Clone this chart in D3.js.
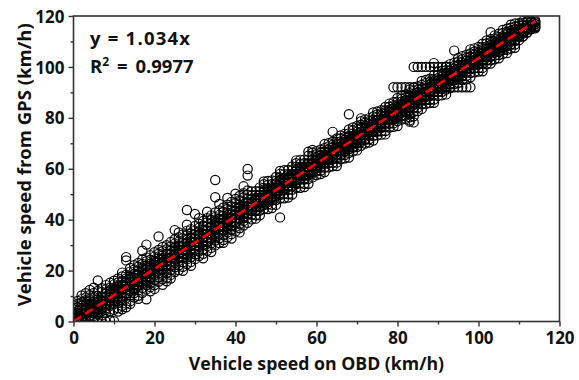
<!DOCTYPE html>
<html><head><meta charset="utf-8">
<script src="https://cdn.jsdelivr.net/npm/d3@7"></script>
<style>
html,body{margin:0;padding:0;background:#fff;}
svg{display:block;font-family:"Open Sans",sans-serif;font-weight:bold;}
</style></head>
<body>
<script>
// ---------- data ----------
const xTicks = [0, 20, 40, 60, 80, 100, 120];
const yTicks = [0, 20, 40, 60, 80, 100, 120];
const minorTicks = [10, 30, 50, 70, 90, 110];
const fitSlope = 1.034;
const fitRange = [0, 114];
const fitLabel = "y = 1.034x";
const r2Label = "0.9977";
const xTitle = "Vehicle speed on OBD (km/h)";
const yTitle = "Vehicle speed from GPS (km/h)";
// OBD speeds (km/h)
const obdSpeed = [];
for (let i = 0; i <= 114; i++) obdSpeed.push(i);
// GPS speeds observed at each OBD speed (row index = OBD speed), spread of readings
const gpsSpeed = [
[0,0.8,1.9,2.6,3.4,4.7,5.5,6.3,7.2,1.2],
[0,0.6,1.8,3.1,4.2,5.6,6.8,2.4,8.1],
[0,1.1,2.5,3.7,4.9,6.2,7.5,8.8,0.4,10.2],
[0.2,1.4,2.9,4.3,5.1,6.6,8.2,9.4,3.6,11.1],
[0,1.7,3.2,4.4,5.8,7.1,8.6,10.3,2.3,12.4],
[0.6,2.2,3.9,5.0,6.4,7.8,9.5,11.2,4.1,13.3],
[1.0,2.8,4.6,5.9,7.3,8.7,10.1,12.0,16.1,3.5],
[0,2.4,4.1,5.7,7.0,8.4,9.8,11.6,13.1,6.3],
[0,3.3,5.2,6.9,8.1,9.6,11.0,12.7,14.3,4.5],
[0.4,3.9,6.1,7.7,9.2,10.5,11.9,13.4,15.2,8.4],
[0.1,4.6,6.8,8.5,10.0,11.4,12.8,14.6,16.0,9.2],
[5.3,7.4,9.1,10.8,12.1,13.5,15.3,16.9,3.9,11.7],
[6.2,8.3,10.0,11.6,12.9,14.4,15.8,17.7,4.8,19.2],
[7.1,9.2,10.9,12.5,13.8,15.2,16.9,18.4,24.0,25.3,5.6],
[8.0,10.3,12.0,13.6,14.9,16.3,17.8,19.6,21.0,6.9],
[9.4,11.2,13.1,14.6,15.9,17.2,18.7,20.4,22.1,12.3],
[10.1,12.2,14.0,15.5,16.8,18.2,19.9,21.5,23.0,8.9],
[11.3,13.2,15.1,16.7,17.9,19.3,20.8,22.6,24.4,27.8],
[8.7,12.6,14.3,16.1,17.6,18.9,20.4,21.9,23.7,30.2,25.1],
[13.5,15.2,17.0,18.6,19.8,21.2,22.7,24.3,26.0,11.9],
[14.3,16.4,18.1,19.7,21.0,22.4,23.9,25.5,27.2,12.8],
[15.6,17.3,19.0,20.6,22.0,23.3,24.8,26.6,28.1,33.4],
[14.4,16.6,18.3,20.1,21.6,23.0,24.4,25.9,27.6,29.3],
[17.2,19.1,20.8,22.4,23.9,25.2,26.7,28.4,30.0,15.8],
[18.3,20.2,21.9,23.5,24.9,26.3,27.8,29.5,31.2,16.9],
[19.4,21.3,23.0,24.6,26.0,27.4,28.9,30.6,32.3,35.9],
[20.2,22.1,23.9,25.5,27.0,28.4,29.9,31.4,33.1,35.0],
[21.5,23.3,25.0,26.6,28.0,29.4,30.9,32.7,34.2,19.9],
[22.6,24.4,26.1,27.7,29.1,30.5,32.0,33.8,35.6,43.8,38.0],
[23.4,25.3,27.1,28.7,30.1,31.5,33.0,34.6,36.3,21.9],
[24.5,26.4,28.2,29.8,31.2,32.6,34.1,35.7,37.5,42.2],
[25.7,27.5,29.3,30.9,32.3,33.7,35.2,36.8,38.4,40.6],
[26.6,28.4,30.2,31.8,33.2,34.6,36.1,37.7,39.5,24.8],
[27.8,29.6,31.4,33.0,34.4,35.8,37.3,38.9,40.6,43.1],
[28.9,30.7,32.5,34.1,35.5,36.9,38.4,40.0,41.7,27.3],
[29.9,31.8,33.5,35.1,36.5,37.9,39.4,41.0,42.8,48.8,55.6],
[30.8,32.7,34.4,36.0,37.4,38.8,40.3,41.9,43.6,46.2],
[32.0,33.9,35.6,37.2,38.6,40.0,41.5,43.1,44.8,30.9],
[33.1,35.0,36.7,38.3,39.7,41.1,42.6,44.2,45.9,48.5],
[34.3,36.1,37.8,39.4,40.8,42.2,43.7,45.3,47.0,32.6],
[35.4,37.2,38.9,40.5,41.9,43.3,44.8,46.4,48.1,50.2],
[36.6,38.4,40.1,41.7,43.1,44.5,46.0,47.6,49.3,35.0],
[37.7,39.5,41.2,42.8,44.2,45.6,47.1,48.7,50.4,53.1],
[38.8,40.6,42.3,43.9,45.3,46.7,48.2,49.8,51.5,59.9,57.3],
[40.1,41.9,43.4,44.7,45.8,47.0,48.2,49.5,51.1,44.0],
[41.7,43.4,44.8,46.1,47.3,48.5,49.8,51.2,40.4,47.6],
[41.7,43.6,45.0,46.4,47.5,48.6,49.8,51.2,52.7,48.2],
[44.2,45.7,47.2,48.4,49.8,51.1,52.5,53.9,46.3,55.0],
[44.2,46.0,47.5,48.8,49.9,51.1,52.3,53.6,55.2,48.1],
[45.9,47.6,49.0,50.3,51.5,52.7,54.0,55.4,44.6,51.8],
[45.8,47.7,49.1,50.5,51.6,52.7,53.9,55.3,56.8,52.3],
[48.3,49.8,51.3,52.5,53.9,55.2,56.6,58.0,50.4,59.1,40.9],
[48.4,50.2,51.7,53.0,54.1,55.3,56.5,57.8,59.4,52.3],
[50.0,51.7,53.1,54.4,55.6,56.8,58.1,59.5,48.7,55.9],
[49.9,51.8,53.2,54.6,55.7,56.8,58.0,59.4,60.9,56.4],
[52.5,54.0,55.5,56.7,58.1,59.4,60.8,62.2,54.6,63.3],
[52.5,54.3,55.8,57.1,58.2,59.4,60.6,61.9,63.5,56.4],
[54.1,55.8,57.2,58.5,59.7,60.9,62.2,63.6,52.8,60.0],
[54.1,56.0,57.4,58.8,59.9,61.0,62.2,63.6,65.1,60.6,66.7],
[56.6,58.1,59.6,60.8,62.2,63.5,64.9,66.3,58.7,67.4],
[57.5,59.0,60.2,61.4,62.4,63.4,64.5,65.7,66.9,60.8],
[59.2,60.6,61.9,63.0,64.1,65.2,66.3,67.5,57.9,63.6],
[58.7,60.5,62.0,63.3,64.4,65.6,66.8,68.1,69.7,62.6],
[60.6,62.1,63.3,64.5,65.5,66.5,67.6,68.8,70.0,63.9],
[62.3,63.7,65.0,66.1,67.2,68.3,69.4,70.6,61.0,66.7,74.5],
[62.4,64.1,65.5,66.8,68.0,69.2,70.5,71.9,61.1,68.3],
[63.7,65.2,66.4,67.6,68.6,69.6,70.7,71.9,73.1,67.0],
[65.4,66.8,68.1,69.2,70.3,71.4,72.5,73.7,64.1,69.8],
[64.4,66.3,67.7,69.1,70.2,71.3,72.5,73.9,75.4,70.9,81.4],
[66.8,68.3,69.5,70.7,71.7,72.7,73.8,75.0,76.2,70.1],
[68.5,69.9,71.2,72.3,73.4,74.5,75.6,76.8,67.2,72.9],
[69.0,70.5,72.0,73.2,74.6,75.9,77.3,78.7,71.1,79.8],
[69.9,71.4,72.6,73.8,74.8,75.8,76.9,78.1,79.3,73.2],
[71.6,73.0,74.3,75.4,76.5,77.6,78.7,79.9,70.3,76.0],
[71.1,72.9,74.4,75.7,76.8,78.0,79.2,80.5,82.1,75.0],
[73.1,74.6,75.8,77.0,78.0,79.0,80.1,81.3,82.5,76.4],
[74.7,76.1,77.4,78.5,79.6,80.7,81.8,83.0,73.4,79.1],
[74.8,76.5,77.9,79.2,80.4,81.6,82.9,84.3,73.5,80.7],
[76.2,77.7,78.9,80.1,81.1,82.1,83.2,84.4,85.6,79.5],
[77.8,79.2,80.5,81.6,82.7,83.8,84.9,86.1,76.5,82.2,92.0],
[76.8,78.7,80.1,81.5,82.6,83.7,84.9,86.3,87.8,83.3,92.0],
[79.3,80.8,82.0,83.2,84.2,85.2,86.3,87.5,88.7,82.6,92.0],
[80.9,82.3,83.6,84.7,85.8,86.9,88.0,89.2,79.6,85.3,92.0],
[81.4,82.9,84.4,85.6,87.0,88.3,89.7,91.1,78.5,80.2,79.0,92.0],
[82.4,83.9,85.1,86.3,87.3,88.3,89.4,90.6,91.8,80.6,78.2,92.0,100.0],
[84.0,85.4,86.7,87.8,88.9,90.0,91.1,92.3,82.7,88.4,100.0],
[83.5,85.3,86.8,88.1,89.2,90.4,91.6,92.9,94.5,87.4,100.0],
[85.5,87.0,88.2,89.4,90.4,91.4,92.5,93.7,94.9,88.8,100.0],
[87.1,88.5,89.8,90.9,92.0,93.1,94.2,95.4,85.8,91.5,100.0],
[87.2,88.9,90.3,91.6,92.8,94.0,95.3,96.7,85.9,93.1,100.0,101.5],
[88.6,90.1,91.3,92.5,93.5,94.5,95.6,96.8,98.0,91.9,100.0],
[90.2,91.6,92.9,94.0,95.1,96.2,97.3,98.5,88.9,94.6,100.0],
[89.2,91.1,92.5,93.9,95.0,96.1,97.3,98.7,100.2,95.7,100.0,92.0],
[91.7,93.2,94.4,95.6,96.6,97.6,98.7,99.9,101.1,95.0,92.0],
[93.3,94.7,96.0,97.1,98.2,99.3,100.4,101.6,92.0,97.7,106.4],
[93.8,95.3,96.8,98.0,99.4,100.7,102.1,103.5,95.9,92.0],
[94.8,96.3,97.5,98.7,99.7,100.7,101.8,103.0,104.2,92.0],
[96.4,97.8,99.1,100.2,101.3,102.4,103.5,104.7,95.1,92.0],
[95.9,97.7,99.2,100.5,101.6,102.8,104.0,105.3,106.9,92.0],
[97.9,99.4,100.6,101.8,102.8,103.8,104.9,106.1,107.3,101.2],
[99.5,100.9,102.2,103.3,104.4,105.5,106.6,107.8,98.2,103.9],
[99.6,101.3,102.7,104.0,105.2,106.4,107.7,109.1,98.3,105.5],
[101.0,102.5,103.7,104.9,105.9,106.9,108.0,109.2,110.4,104.3],
[102.6,104.0,105.3,106.4,107.5,108.6,109.7,110.9,101.3,113.6],
[103.0,104.5,105.7,106.9,107.9,108.9,110.0,111.2,112.4,106.3],
[104.7,106.1,107.4,108.5,109.6,110.7,111.8,113.0,103.4,109.1],
[105.1,106.6,107.8,109.0,110.0,111.0,112.1,113.3,114.5,108.4],
[106.7,108.1,109.4,110.5,111.6,112.7,113.8,115.0,105.4,111.1],
[107.2,108.7,109.9,111.1,112.1,113.1,114.2,115.4,116.6,110.5],
[108.8,110.2,111.5,112.6,113.7,114.8,115.9,117.1,107.5,113.2],
[110.5,111.8,113.0,114.1,115.2,116.3,117.2,112.4],
[112.0,113.1,114.2,115.3,116.4,117.3,118.0,113.7],
[113.5,114.6,115.7,116.5,117.3,118.0,115.2],
[114.8,115.9,116.6,117.3,117.9,116.2],
[115.2,116.1,116.8,117.4,115.7]
];
// additional GPS readings in the dense core of the band (row index = OBD speed)
const gpsSpeedCore = [
[0.3,1.4,2.2,3.0],[0,0.7,1.6,3.1],[0.2,1.8,3.1,4.6],[0.4,2.0,3.3,4.7],[2.2,3.8,5.1,6.7],
[3.3,4.9,6.2,7.8],[3.5,5.1,6.4,7.8],[4.9,6.5,7.8,9.3],[6.4,8.0,9.3,10.9],[6.6,8.2,9.5,10.9],
[8.0,9.6,10.9,12.4],[9.5,11.1,12.4,14.0],[9.7,11.3,12.6,14.0],[11.1,12.7,14.0,15.5],[12.6,14.2,15.5,17.1],
[12.8,14.4,15.7,17.1],[14.2,15.8,17.1,18.6],[15.7,17.3,18.6,20.2],[15.9,17.5,18.8,20.2],[17.4,19.0,20.3,21.8],
[18.8,20.4,21.7,23.3],[19.0,20.6,21.9,23.3],[20.5,22.1,23.4,24.9],[21.9,23.5,24.8,26.4],[22.1,23.7,25.0,26.4],
[23.6,25.2,26.5,28.0],[25.0,26.6,27.9,29.5],[25.2,26.8,28.1,29.5],[26.7,28.3,29.6,31.1],[28.1,29.7,31.0,32.6],
[28.3,29.9,31.2,32.6],[29.8,31.4,32.7,34.2],[31.2,32.8,34.1,35.7],[31.4,33.0,34.3,35.7],[32.9,34.5,35.8,37.3],
[34.3,35.9,37.2,38.8],[34.5,36.1,37.4,38.8],[36.0,37.6,38.9,40.4],[37.4,39.0,40.3,41.9],[37.6,39.2,40.5,41.9],
[39.1,40.7,42.0,43.5],[40.5,42.1,43.4,45.0],[40.7,42.3,43.6,45.0],[42.2,43.8,45.1,46.6],[43.6,45.2,46.5,48.1],
[43.8,45.4,46.7,48.1],[45.3,46.9,48.2,49.7],[46.7,48.3,49.6,51.2],[46.9,48.5,49.8,51.2],[48.4,50.0,51.3,52.8],
[49.8,51.4,52.7,54.3],[50.0,51.6,52.9,54.3],[51.5,53.1,54.4,55.9],[52.9,54.5,55.8,57.4],[53.1,54.7,56.0,57.4],
[54.6,56.2,57.5,59.0],[56.0,57.6,58.9,60.5],[56.2,57.8,59.1,60.5],[57.7,59.3,60.6,62.1],[59.1,60.7,62.0,63.6],
[59.3,60.9,62.2,63.6],[60.8,62.4,63.7,65.2],[62.2,63.8,65.1,66.7],[62.4,64.0,65.3,66.7],[63.9,65.5,66.8,68.3],
[65.3,66.9,68.2,69.8],[65.5,67.1,68.4,69.8],[67.0,68.6,69.9,71.4],[68.4,70.0,71.3,72.9],[68.6,70.2,71.5,72.9],
[70.1,71.7,73.0,74.5],[71.5,73.1,74.4,76.0],[71.7,73.3,74.6,76.0],[73.2,74.8,76.1,77.6],[74.6,76.2,77.5,79.1],
[74.8,76.4,77.7,79.1],[76.3,77.9,79.2,80.7],[77.7,79.3,80.6,82.2],[77.9,79.5,80.8,82.2],[79.4,81.0,82.3,83.8],
[80.8,82.4,83.7,85.3],[81.0,82.6,83.9,85.3],[82.5,84.1,85.4,86.9],[83.9,85.5,86.8,88.4],[84.1,85.7,87.0,88.4],
[85.6,87.2,88.5,90.0],[87.0,88.6,89.9,91.5],[87.2,88.8,90.1,91.5],[88.7,90.3,91.6,93.1],[90.1,91.7,93.0,94.6],
[90.3,91.9,93.2,94.6],[91.8,93.4,94.7,96.2],[93.2,94.8,96.1,97.7],[93.4,95.0,96.3,97.7],[94.9,96.5,97.8,99.3],
[96.3,97.9,99.2,100.8],[96.5,98.1,99.4,100.8],[98.0,99.6,100.9,102.4],[99.4,101.0,102.3,103.9],[99.6,101.2,102.5,103.9],
[101.1,102.7,104.0,105.5],[102.5,104.1,105.4,107.0],[102.7,104.3,105.6,107.0],[104.2,105.8,107.1,108.6],[105.6,107.2,108.5,110.1],
[105.8,107.4,108.7,110.1],[107.3,108.9,110.2,111.7],[108.7,110.3,111.6,113.2],[108.9,110.5,111.8,113.2],[110.4,112.0,113.3,114.8],
[111.8,113.4,114.7,116.3],[112.0,113.6,114.9,116.3],[113.5,115.1,116.4,117.9],[114.9,116.5,117.8,118.2],[115.6,116.9,117.8,118.3]
];

// ---------- chart ----------
const W = 579, H = 380;
const margin = {left: 73.5, right: W - 559.5, top: 16, bottom: H - 321.5};
const svg = d3.select("body").append("svg").attr("width", W).attr("height", H);

const x = d3.scaleLinear().domain([0, 120]).range([margin.left, W - margin.right]);
const y = d3.scaleLinear().domain([0, 120]).range([H - margin.bottom, margin.top]);

const points = [];
obdSpeed.forEach((o, i) => {
  (gpsSpeed[i] || []).forEach(g => points.push([o, g]));
  (gpsSpeedCore[i] || []).forEach(g => points.push([o, g]));
});

svg.append("clipPath").attr("id", "clip").append("rect")
  .attr("x", x(0)).attr("y", y(120)).attr("width", x(120) - x(0)).attr("height", y(0) - y(120));

const g = svg.append("g").attr("clip-path", "url(#clip)");
g.selectAll("circle").data(points).join("circle")
  .attr("cx", d => x(d[0])).attr("cy", d => y(d[1])).attr("r", 4.6)
  .attr("fill", "none").attr("stroke", "#000").attr("stroke-width", 1.2);

// fit line
g.append("line")
  .attr("x1", x(fitRange[0])).attr("y1", y(fitSlope * fitRange[0]))
  .attr("x2", x(fitRange[1])).attr("y2", y(fitSlope * fitRange[1]))
  .attr("stroke", "#ff0000").attr("stroke-width", 2.6).attr("stroke-dasharray", "9,5");

// frame
const axCol = "#333";
svg.append("rect").attr("x", x(0)).attr("y", y(120)).attr("width", x(120) - x(0)).attr("height", y(0) - y(120))
  .attr("fill", "none").attr("stroke", axCol).attr("stroke-width", 1.6);

// axes
const xAxis = svg.append("g").attr("transform", `translate(0,${y(0)})`)
  .call(d3.axisBottom(x).tickValues(xTicks).tickSize(5).tickPadding(5).tickFormat(d3.format("d")));
const yAxis = svg.append("g").attr("transform", `translate(${x(0)},0)`)
  .call(d3.axisLeft(y).tickValues(yTicks).tickSize(5).tickPadding(4).tickFormat(d3.format("d")));
svg.append("g").attr("transform", `translate(0,${y(0)})`)
  .call(d3.axisBottom(x).tickValues(minorTicks).tickSize(3).tickFormat(""));
svg.append("g").attr("transform", `translate(${x(0)},0)`)
  .call(d3.axisLeft(y).tickValues(minorTicks).tickSize(3).tickFormat(""));
svg.selectAll(".domain").remove();
svg.selectAll(".tick line").attr("stroke", axCol).attr("stroke-width", 1.4);
svg.selectAll(".tick text").attr("fill", "#111").style("font-family", "'Open Sans',sans-serif")
  .style("font-weight", "bold").style("font-size", "17px");
yAxis.selectAll(".tick text").attr("dy", "0.36em");

// titles
svg.append("text").attr("x", (x(0) + x(120)) / 2).attr("y", 370)
  .attr("text-anchor", "middle").attr("fill", "#111").style("font-size", "17.7px").text(xTitle);
svg.append("text").attr("transform", `translate(31,${(y(0) + y(120)) / 2 - 4}) rotate(-90)`)
  .attr("text-anchor", "middle").attr("fill", "#111").style("font-size", "18.5px").text(yTitle);

// annotation
svg.append("text").attr("x", 90).attr("y", 45).attr("fill", "#111").style("font-size", "18.5px")
  .attr("textLength", 100).attr("lengthAdjust", "spacing")
  .text(fitLabel.replace(/ /g, "\u00a0"));
const r2 = svg.append("text").attr("x", 90).attr("y", 73).attr("fill", "#111").style("font-size", "18.5px");
r2.append("tspan").text("R");
r2.append("tspan").attr("dy", -7).style("font-size", "12px").text("2");
r2.append("tspan").attr("dy", 7).text("\u00a0\u2009=\u00a0\u2009" + r2Label);
</script>
</body></html>
